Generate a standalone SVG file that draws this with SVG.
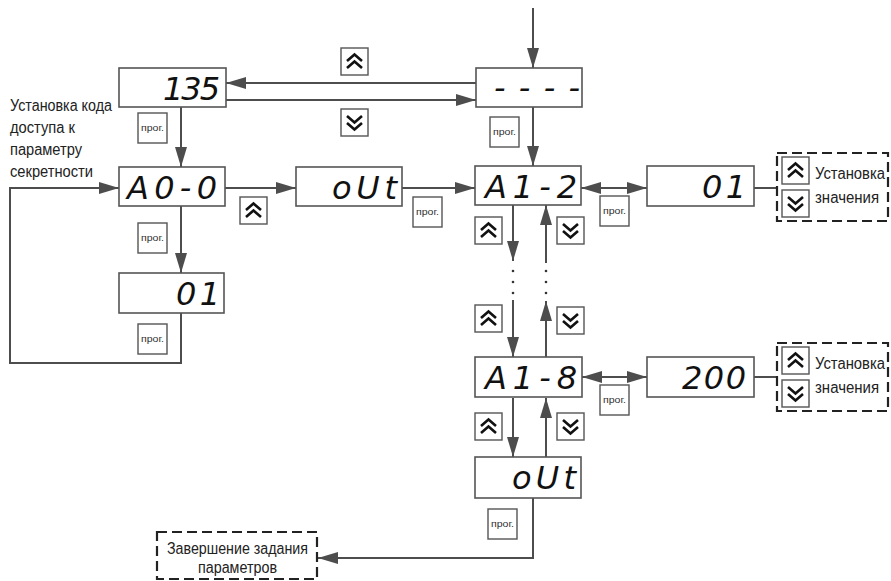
<svg xmlns="http://www.w3.org/2000/svg" xmlns:xlink="http://www.w3.org/1999/xlink" width="891" height="581" viewBox="0 0 891 581">
<style>
.box{fill:#fff;stroke:#555;stroke-width:1.6}
.seg{font-family:"DejaVu Sans","Liberation Sans",sans-serif;font-weight:200;font-style:oblique;font-size:32px;fill:#111;text-anchor:end}
.ln{fill:none;stroke:#4d4d4d;stroke-width:2}
.lbl{font-family:"Liberation Sans","DejaVu Sans",sans-serif;font-size:16px;fill:#222}
.dash{fill:none;stroke:#222;stroke-width:2.2;stroke-dasharray:10 5}
.btn{fill:#fff;stroke:#555;stroke-width:1.4}
.chev{fill:none;stroke:#111;stroke-width:2.6;stroke-linejoin:miter}
.prog{font-family:"Liberation Sans","DejaVu Sans",sans-serif;font-size:9px;fill:#333;text-anchor:middle}
.dot{fill:#333}
</style>
<defs>
<marker id="ah" markerUnits="userSpaceOnUse" markerWidth="21" markerHeight="13" refX="20" refY="6" orient="auto-start-reverse" viewBox="0 0 21 13">
<path d="M0,0 L20,6 L0,12 z" fill="#4d4d4d"/>
</marker>
<g id="up">
<rect class="btn" x="0" y="0" width="27" height="27"/>
<polyline class="chev" points="6,13 13.5,6.5 21,13"/>
<polyline class="chev" points="6,20 13.5,13.5 21,20"/>
</g>
<g id="down">
<rect class="btn" x="0" y="0" width="27" height="27"/>
<polyline class="chev" points="6,7 13.5,13.5 21,7"/>
<polyline class="chev" points="6,14 13.5,20.5 21,14"/>
</g>
<g id="prog">
<rect class="btn" x="0" y="0" width="29" height="30"/>
<text class="prog" x="14.5" y="18" textLength="23" lengthAdjust="spacingAndGlyphs">прог.</text>
</g>
</defs>

<g id="connectors">
<line class="ln" x1="533" y1="8" x2="533" y2="68" marker-end="url(#ah)"/>
<line class="ln" x1="476" y1="83" x2="226" y2="83" marker-end="url(#ah)"/>
<line class="ln" x1="226" y1="100" x2="476" y2="100" marker-end="url(#ah)"/>
<line class="ln" x1="181" y1="107" x2="181" y2="167" marker-end="url(#ah)"/>
<line class="ln" x1="533" y1="107" x2="533" y2="166" marker-end="url(#ah)"/>
<line class="ln" x1="181" y1="206" x2="181" y2="273" marker-end="url(#ah)"/>
<polyline class="ln" points="181,313 181,363 10,363 10,188 119,188" marker-end="url(#ah)"/>
<line class="ln" x1="225" y1="188" x2="296" y2="188" marker-end="url(#ah)"/>
<line class="ln" x1="402" y1="188" x2="475" y2="188" marker-end="url(#ah)"/>
<line class="ln" x1="581" y1="188" x2="647" y2="188" marker-start="url(#ah)" marker-end="url(#ah)"/>
<line class="ln" x1="754" y1="188" x2="777" y2="188"/>
<line class="ln" x1="513" y1="205" x2="513" y2="261" marker-end="url(#ah)"/>
<line class="ln" x1="546" y1="263" x2="546" y2="205" marker-end="url(#ah)"/>
<circle class="dot" cx="513" cy="271" r="1.3"/>
<circle class="dot" cx="513" cy="282" r="1.3"/>
<circle class="dot" cx="513" cy="293" r="1.3"/>
<circle class="dot" cx="546" cy="271" r="1.3"/>
<circle class="dot" cx="546" cy="282" r="1.3"/>
<circle class="dot" cx="546" cy="293" r="1.3"/>
<line class="ln" x1="513" y1="300" x2="513" y2="357" marker-end="url(#ah)"/>
<line class="ln" x1="546" y1="357" x2="546" y2="301" marker-end="url(#ah)"/>
<line class="ln" x1="582" y1="377" x2="647" y2="377" marker-start="url(#ah)" marker-end="url(#ah)"/>
<line class="ln" x1="754" y1="377" x2="777" y2="377"/>
<line class="ln" x1="513" y1="398" x2="513" y2="457" marker-end="url(#ah)"/>
<line class="ln" x1="546" y1="457" x2="546" y2="398" marker-end="url(#ah)"/>
<polyline class="ln" points="533,498 533,558 318,558" marker-end="url(#ah)"/>
</g>

<g id="buttons">
<use xlink:href="#up" x="341" y="48"/>
<use xlink:href="#down" x="341" y="109"/>
<use xlink:href="#prog" x="138" y="113"/>
<use xlink:href="#prog" x="490" y="117"/>
<use xlink:href="#prog" x="138" y="223"/>
<use xlink:href="#prog" x="138" y="324"/>
<use xlink:href="#up" x="240" y="197"/>
<use xlink:href="#prog" x="413" y="197"/>
<use xlink:href="#prog" x="600" y="196"/>
<use xlink:href="#up" x="475" y="217"/>
<use xlink:href="#down" x="557" y="217"/>
<use xlink:href="#up" x="475" y="305"/>
<use xlink:href="#down" x="557" y="307"/>
<use xlink:href="#prog" x="600" y="385"/>
<use xlink:href="#up" x="475" y="413"/>
<use xlink:href="#down" x="557" y="413"/>
<use xlink:href="#prog" x="488" y="509"/>
</g>

<g id="label-access">
<text class="lbl" x="10" y="111" textLength="102" lengthAdjust="spacingAndGlyphs">Установка кода</text>
<text class="lbl" x="10" y="133" textLength="65" lengthAdjust="spacingAndGlyphs">доступа к</text>
<text class="lbl" x="10" y="155" textLength="72" lengthAdjust="spacingAndGlyphs">параметру</text>
<text class="lbl" x="10" y="177" textLength="83" lengthAdjust="spacingAndGlyphs">секретности</text>
</g>

<g id="node-135">
<rect class="box" x="119" y="68" width="107" height="39"/>
<text class="seg" x="220" y="100" textLength="57" lengthAdjust="spacing">135</text>
</g>
<g id="node-dashes">
<rect class="box" x="476" y="68" width="106" height="39"/>
<text class="seg" x="580" y="99" textLength="86" lengthAdjust="spacing">----</text>
</g>
<g id="node-A0-0">
<rect class="box" x="119" y="167" width="106" height="39"/>
<text class="seg" x="217" y="199" textLength="90" lengthAdjust="spacing">A0-0</text>
</g>
<g id="node-01-left">
<rect class="box" x="119" y="273" width="105" height="40"/>
<text class="seg" x="220" y="305" textLength="44" lengthAdjust="spacing">01</text>
</g>
<g id="node-oUt-1">
<rect class="box" x="296" y="167" width="106" height="39"/>
<text class="seg" x="397" y="199" textLength="65" lengthAdjust="spacing">oUt</text>
</g>
<g id="node-A1-2">
<rect class="box" x="475" y="166" width="106" height="39"/>
<text class="seg" x="577" y="198" textLength="92" lengthAdjust="spacing">A1-2</text>
</g>
<g id="node-01-right">
<rect class="box" x="647" y="166" width="107" height="40"/>
<text class="seg" x="746" y="198" textLength="44" lengthAdjust="spacing">01</text>
</g>
<g id="node-A1-8">
<rect class="box" x="475" y="357" width="107" height="40"/>
<text class="seg" x="577" y="389" textLength="92" lengthAdjust="spacing">A1-8</text>
</g>
<g id="node-200">
<rect class="box" x="647" y="357" width="107" height="40"/>
<text class="seg" x="746" y="389" textLength="64" lengthAdjust="spacing">200</text>
</g>
<g id="node-oUt-2">
<rect class="box" x="475" y="457" width="106" height="41"/>
<text class="seg" x="576" y="489" textLength="64" lengthAdjust="spacing">oUt</text>
</g>

<g id="node-set-value-1">
<rect class="dash" x="777" y="153" width="111" height="68"/>
<use xlink:href="#up" x="782" y="157"/>
<use xlink:href="#down" x="782" y="190"/>
<text class="lbl" x="815" y="179" textLength="70" lengthAdjust="spacingAndGlyphs">Установка</text>
<text class="lbl" x="815" y="203" textLength="64" lengthAdjust="spacingAndGlyphs">значения</text>
</g>
<g id="node-set-value-2">
<rect class="dash" x="777" y="343" width="111" height="68"/>
<use xlink:href="#up" x="782" y="347"/>
<use xlink:href="#down" x="782" y="380"/>
<text class="lbl" x="815" y="369" textLength="70" lengthAdjust="spacingAndGlyphs">Установка</text>
<text class="lbl" x="815" y="393" textLength="64" lengthAdjust="spacingAndGlyphs">значения</text>
</g>
<g id="node-finish">
<rect class="dash" x="157" y="532" width="160" height="47"/>
<text class="lbl" x="167" y="554" textLength="141" lengthAdjust="spacingAndGlyphs">Завершение задания</text>
<text class="lbl" x="198" y="573" textLength="79" lengthAdjust="spacingAndGlyphs">параметров</text>
</g>
</svg>
